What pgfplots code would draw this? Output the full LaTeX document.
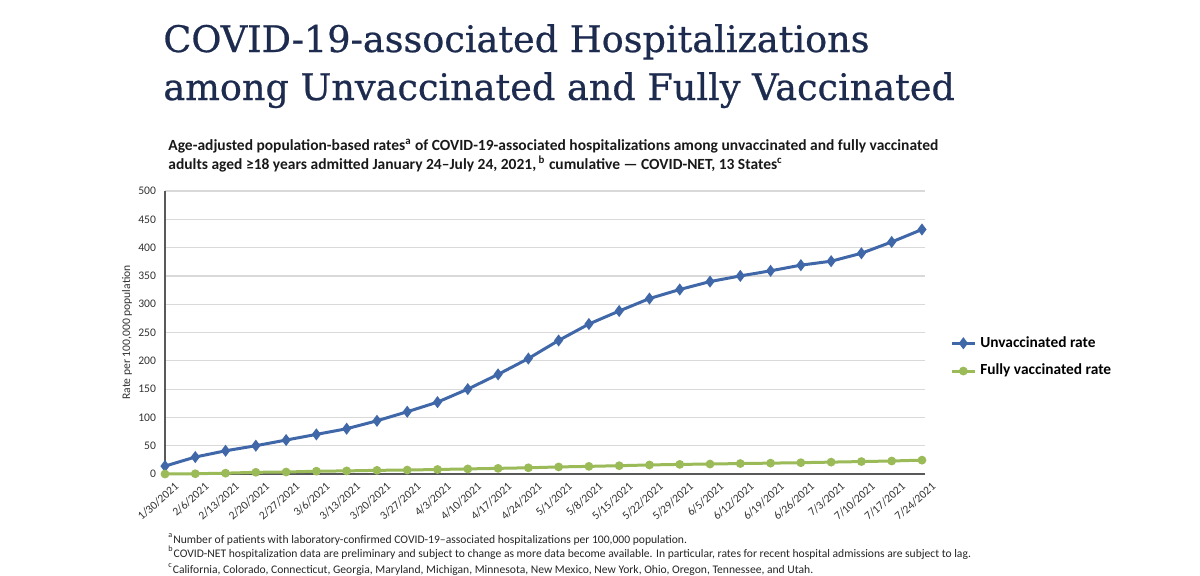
\documentclass[border=0pt]{standalone}
\usepackage{fontspec}
\setmainfont{Carlito}
\newfontfamily\titlefont[FakeBold=0.6]{DejaVu Serif}
\usepackage{pgfplots}
\pgfplotsset{compat=1.18}
\usepackage{pgfplotstable}
\definecolor{unvax}{HTML}{4068A8}
\definecolor{vax}{HTML}{9BBB59}
\definecolor{navy}{HTML}{1D2B4F}
\pgfplotstableread{
x unvax vax
0 14 0
1 30 0.5
2 41 1.5
3 50 3
4 60 3.5
5 70 5
6 80 5.5
7 94 6.5
8 110 7
9 127 8
10 150 9
11 176 10
12 204 11
13 236 12.5
14 265 13.5
15 288 14.7
16 310 16
17 326 17
18 340 17.6
19 350 18.5
20 359 19.2
21 369 20
22 376 21
23 390 22
24 410 23
25 432 24.5
}\datatable
\begin{document}
\begin{tikzpicture}
\useasboundingbox[fill=white] (0,0) rectangle (600pt,-287.5pt);
\node[anchor=base west, inner sep=0, text=navy, font=\titlefont\fontsize{18.3}{24}\selectfont] at (81.5pt,-26pt) {COVID-19-associated Hospitalizations};
\node[anchor=base west, inner sep=0, text=navy, font=\titlefont\fontsize{18.3}{24}\selectfont] at (81.5pt,-50pt) {among Unvaccinated and Fully Vaccinated};
\node[anchor=base west, inner sep=0, text=black!90, font=\bfseries\fontsize{7.75}{9}\selectfont] at (84pt,-75pt) {Age-adjusted population-based rates\textsuperscript{a} of COVID-19-associated hospitalizations among unvaccinated and fully vaccinated};
\node[anchor=base west, inner sep=0, text=black!90, font=\bfseries\fontsize{7.75}{9}\selectfont] at (84pt,-84.5pt) {adults aged ≥18 years admitted January 24–July 24, 2021,\textsuperscript{ b} cumulative — COVID-NET, 13 States\textsuperscript{c}};
\begin{axis}[
  at={(82.5pt,-237pt)}, anchor=south west, scale only axis,
  width=380pt, height=141.5pt,
  xmin=0, xmax=25.1, ymin=0, ymax=500,
  xtick={0,...,25},
  xticklabels={1/30/2021,2/6/2021,2/13/2021,2/20/2021,2/27/2021,3/6/2021,3/13/2021,3/20/2021,3/27/2021,4/3/2021,4/10/2021,4/17/2021,4/24/2021,5/1/2021,5/8/2021,5/15/2021,5/22/2021,5/29/2021,6/5/2021,6/12/2021,6/19/2021,6/26/2021,7/3/2021,7/10/2021,7/17/2021,7/24/2021},
  ytick={0,50,...,500},
  axis x line*=bottom, axis y line*=left,
  ymajorgrids, grid style={draw=black!15, line width=0.6pt},
  major tick length=0pt,
  axis line style={draw=black!65, line width=0.9pt},
  tick label style={font=\fontsize{5.8}{6}\selectfont, text=black!80},
  xticklabel style={rotate=42, anchor=north east, inner sep=0.5pt, xshift=1.5pt, yshift=-5pt},
  yticklabel style={xshift=-1pt},
  /pgf/number format/assume math mode=true,
  ylabel={Rate per 100,000 population},
  ylabel style={font=\fontsize{5.8}{6}\selectfont, text=black!80, at={(axis description cs:-0.05,0.5)}, anchor=center},
  clip=false,
  legend style={at={(1.033,0.413)}, anchor=west, draw=none, fill=none, font=\bfseries\fontsize{7.7}{8}\selectfont, row sep=3pt, inner sep=0pt},
  legend cell align=left,
  legend image code/.code={\draw[mark repeat=2,mark phase=2] plot coordinates {(0cm,0cm)(0.2cm,0cm)(0.4cm,0cm)};},
]
\addplot[color=unvax, line width=1.5pt, mark=diamond*, mark size=1.8pt] table[x=x,y=unvax]{\datatable};
\addlegendentry{Unvaccinated rate}
\addplot[color=vax, line width=1.5pt, mark=*, mark size=1.4pt] table[x=x,y=vax]{\datatable};
\addlegendentry{Fully vaccinated rate}
\end{axis}
\node[anchor=base west, inner sep=0, text=black!85, font=\fontsize{5.8}{6}\selectfont] at (84pt,-271.5pt) {\textsuperscript{a}Number of patients with laboratory-confirmed COVID-19–associated hospitalizations per 100,000 population.};
\node[anchor=base west, inner sep=0, text=black!85, font=\fontsize{5.8}{6}\selectfont] at (84pt,-278.5pt) {\textsuperscript{b}COVID-NET hospitalization data are preliminary and subject to change as more data become available. In particular, rates for recent hospital admissions are subject to lag.};
\node[anchor=base west, inner sep=0, text=black!85, font=\fontsize{5.8}{6}\selectfont] at (84pt,-286.5pt) {\textsuperscript{c}California, Colorado, Connecticut, Georgia, Maryland, Michigan, Minnesota, New Mexico, New York, Ohio, Oregon, Tennessee, and Utah.};
\end{tikzpicture}
\end{document}
